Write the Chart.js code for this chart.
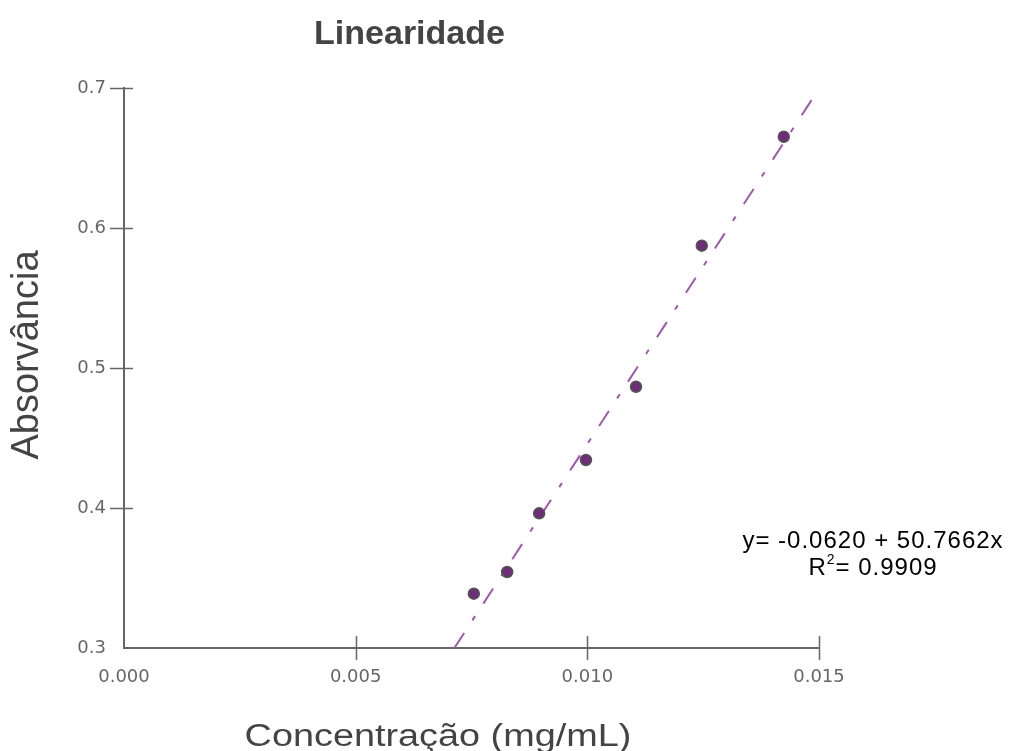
<!DOCTYPE html>
<html lang="pt">
<head>
  <meta charset="UTF-8" />
  <title>Linearidade</title>
  <script src="https://cdn.jsdelivr.net/npm/chart.js"></script>
  <style>
    html, body { margin: 0; padding: 0; background: #fff; }
    #wrap { width: 1013px; height: 751px; }
  </style>
</head>
<body>
  <div id="wrap"><canvas id="lin"></canvas></div>

  <script>
    // measured points (concentration mg/mL, absorbance)
    const concentracao = [0.00755, 0.00827, 0.00896, 0.00997, 0.01105, 0.01247, 0.01424];
    const absorvancia = [0.3388, 0.3543, 0.3962, 0.4343, 0.4866, 0.5874, 0.6652];

    // fitted line ends
    const retaX = [0.00713, 0.015];
    const retaY = [0.3, 0.6995];

    const xTicks = [0.000, 0.005, 0.010, 0.015];
    const yTicks = [0.3, 0.4, 0.5, 0.6, 0.7];

    const tituloX = "Concentração (mg/mL)";
    const tituloY = "Absorvância";
    const equacao = "y= -0.0620 + 50.7662x";
    const r2 = "= 0.9909";

    const tickFont = { family: "DejaVu Sans", size: 18 };
    const axisGrey = "#666";
    const sans = "'Liberation Sans', Arial";

    // ticks crossing the axes, axis titles, regression text
    const extras = {
      id: "extras",
      afterDraw(chart) {
        const { ctx, chartArea: a, scales: { x, y } } = chart;
        ctx.save();
        ctx.strokeStyle = axisGrey;
        ctx.lineWidth = 1.5;
        xTicks.slice(1).forEach(v => {
          const px = Math.round(x.getPixelForValue(v)) + 0.5;
          ctx.beginPath();
          ctx.moveTo(px, a.bottom - 12);
          ctx.lineTo(px, a.bottom + 12);
          ctx.stroke();
        });
        yTicks.slice(1).forEach(v => {
          const py = Math.round(y.getPixelForValue(v)) + 0.5;
          ctx.beginPath();
          ctx.moveTo(a.left - 14, py);
          ctx.lineTo(a.left + 9, py);
          ctx.stroke();
        });

        // axis titles (x one is drawn a bit wide, like the original)
        ctx.fillStyle = "#444";
        ctx.textAlign = "center";
        ctx.textBaseline = "middle";
        ctx.font = "31px " + sans;
        ctx.save();
        ctx.translate(438, 737);
        ctx.scale(1.22, 1);
        ctx.fillText(tituloX, 0, 0);
        ctx.restore();
        ctx.font = "38px " + sans;
        ctx.save();
        ctx.translate(28, 355);
        ctx.rotate(-Math.PI / 2);
        ctx.fillText(tituloY, 0, 0);
        ctx.restore();

        // equation
        ctx.fillStyle = "#000";
        ctx.letterSpacing = "1px";
        ctx.font = "24px " + sans;
        ctx.textBaseline = "alphabetic";
        ctx.fillText(equacao, 873, 548);

        // R² with a raised small 2
        const wR = ctx.measureText("R").width;
        ctx.font = "14px " + sans;
        const w2 = ctx.measureText("2").width;
        ctx.font = "24px " + sans;
        const wRest = ctx.measureText(r2).width;
        const sx = 873 - (wR + w2 + wRest) / 2;
        ctx.textAlign = "left";
        ctx.fillText("R", sx, 575);
        ctx.font = "14px " + sans;
        ctx.fillText("2", sx + wR, 564);
        ctx.font = "24px " + sans;
        ctx.fillText(r2, sx + wR + w2, 575);
        ctx.restore();
      }
    };

    new Chart(document.getElementById("lin"), {
      type: "scatter",
      data: {
        datasets: [
          {
            label: "Pontos",
            data: concentracao.map((c, i) => ({ x: c, y: absorvancia[i] })),
            backgroundColor: "#6e2f78",
            borderColor: "#555",
            borderWidth: 1.5,
            pointRadius: 5.5,
            pointHoverRadius: 5.5,
            order: 1
          },
          {
            label: "Reta",
            type: "line",
            data: retaX.map((c, i) => ({ x: c, y: retaY[i] })),
            borderColor: "#9b5aa8",
            borderWidth: 2,
            borderDash: [18, 15, 5, 15],
            pointRadius: 0,
            fill: false,
            order: 2
          }
        ]
      },
      options: {
        responsive: true,
        maintainAspectRatio: false,
        animation: false,
        layout: { padding: { top: 0, right: 194, bottom: 0, left: 0 } },
        plugins: {
          legend: { display: false },
          tooltip: { enabled: false },
          title: {
            display: true,
            text: "Linearidade",
            color: "#444",
            font: { family: sans, size: 34, weight: "bold", lineHeight: 1.2 },
            padding: { top: 14, bottom: 33.2 }
          }
        },
        scales: {
          x: {
            type: "linear",
            min: 0, max: 0.015,
            afterBuildTicks: s => { s.ticks = xTicks.map(v => ({ value: v })); },
            afterFit: s => { s.height = 103; },
            grid: { display: false, drawTicks: false },
            border: { display: true, color: axisGrey, width: 2 },
            ticks: {
              color: "#666",
              font: tickFont,
              padding: 19,
              maxRotation: 0,
              callback: v => v.toFixed(3)
            },
            title: { display: false }
          },
          y: {
            type: "linear",
            min: 0.3, max: 0.7,
            afterBuildTicks: s => { s.ticks = yTicks.map(v => ({ value: v })); },
            afterFit: s => { s.width = 124; },
            grid: { display: false, drawTicks: false },
            border: { display: true, color: axisGrey, width: 2 },
            ticks: {
              color: "#666",
              font: tickFont,
              padding: 18,
              callback: v => v.toFixed(1)
            },
            title: { display: false }
          }
        }
      },
      plugins: [extras]
    });
  </script>
</body>
</html>
